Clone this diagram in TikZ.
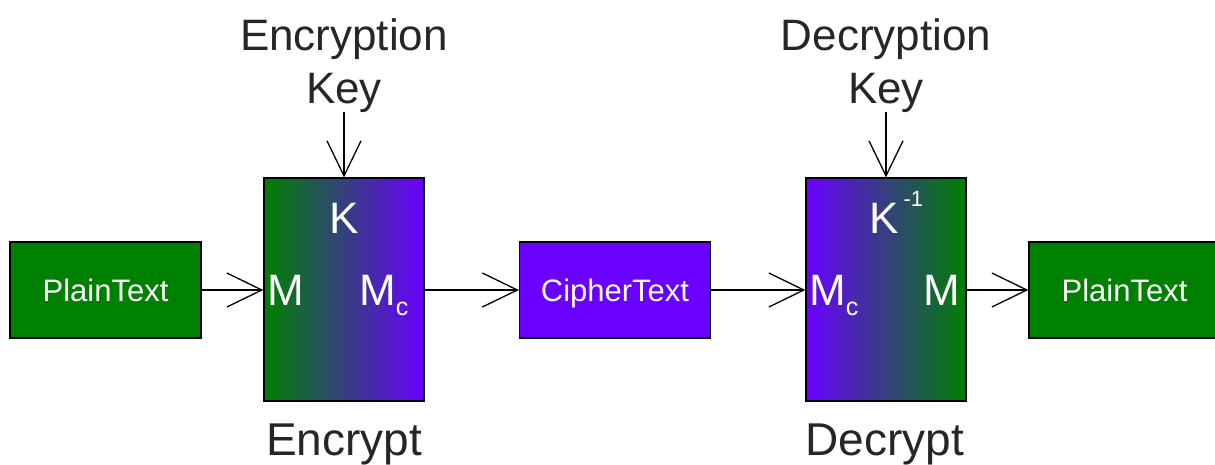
\documentclass[tikz,border=0pt]{standalone}
\usepackage{fontspec}
\setmainfont{Liberation Sans}
\usetikzlibrary{arrows.meta}
\definecolor{dgreen}{HTML}{008000}
\definecolor{dpurple}{HTML}{6A00FF}
\tikzset{
  box/.style={draw=black, line width=1.3pt, minimum width=191pt, minimum height=96pt, inner sep=0pt,
    text=white, font=\fontsize{31}{31}\selectfont, text height=22pt, text depth=0pt},
  procbox/.style={draw=black, line width=1.3pt, minimum width=160pt, minimum height=223pt, inner sep=0pt},
  lbl/.style={inner sep=0pt, font=\fontsize{44}{53}\selectfont, text=black!85},
  biglbl/.style={inner sep=0pt, font=\fontsize{46}{46}\selectfont, text=black!85},
  inlbl/.style={inner sep=0pt, font=\fontsize{44}{44}\selectfont, text=white},
  conn/.style={line width=1.3pt, -{Straight Barb[length=35pt,width=34pt,line width=1.3pt]}},
}
\newcommand{\subc}{\raisebox{-10pt}{\fontsize{25}{25}\selectfont c}}
\newcommand{\supinv}{\hspace{5pt}\raisebox{27pt}{\fontsize{22}{22}\selectfont -1}}
\begin{document}
\begin{tikzpicture}[x=1pt,y=-1pt]
\useasboundingbox (0,0) rectangle (1215,464);
\clip (0,0) rectangle (1215,464);
% boxes
\node[box, fill=dgreen] (p1) at (105.5,290) {PlainText};
\node[procbox, left color=dgreen, right color=dpurple] (enc) at (344,289.5) {};
\node[box, fill=dpurple] (ct) at (615,290) {CipherText};
\node[procbox, left color=dpurple, right color=dgreen] (dec) at (886,289.5) {};
\node[box, fill=dgreen] (p2) at (1124.5,290) {PlainText};
% inner labels
\node[inlbl, anchor=base] (k1) at (344,233) {K};
\node[inlbl, anchor=base west] (m1) at (267,305) {M};
\node[inlbl, anchor=base west] (mc1) at (359,305) {M\subc};
\node[inlbl, anchor=base west] (k2) at (869,233) {K\supinv};
\node[inlbl, anchor=base west] (mc2) at (809,305) {M\subc};
\node[inlbl, anchor=base east] (m2) at (960,305) {M};
% outer labels
\node[lbl, align=center, anchor=north] (ek) at (344,18) {Encryption\\Key};
\node[lbl, align=center, anchor=north] (dk) at (886,18) {Decryption\\Key};
\node[biglbl, anchor=base] (el) at (344,455) {Encrypt};
\node[biglbl, anchor=base] (dl) at (885,455) {Decrypt};
% connectors
\draw[conn] (ek.south) -- (enc.north);
\draw[conn] (dk.south) -- (dec.north);
\draw[conn] (p1.east) -- (enc.west |- p1.east);
\draw[conn] (enc.east |- ct.west) -- (ct.west);
\draw[conn] (ct.east) -- (dec.west |- ct.east);
\draw[conn] (dec.east |- p2.west) -- (p2.west);
\end{tikzpicture}
\end{document}
